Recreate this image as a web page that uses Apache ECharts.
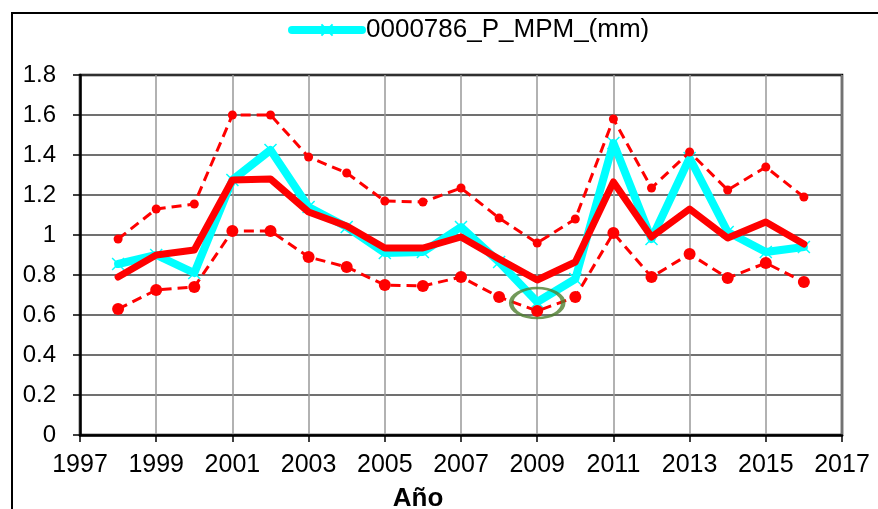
<!DOCTYPE html>
<html>
<head>
<meta charset="utf-8">
<script src="https://cdn.jsdelivr.net/npm/echarts@6/dist/echarts.min.js"></script>
<style>html,body{margin:0;padding:0;background:#fff;}#c{width:878px;height:509px;}</style>
</head>
<body>
<div id="c"></div>
<script>
var years = [1998,1999,2000,2001,2002,2003,2004,2005,2006,2007,2008,2009,2010,2011,2012,2013,2014,2015,2016];
var mpm = [0.855,0.90,0.81,1.275,1.425,1.14,1.04,0.91,0.915,1.04,0.865,0.665,0.78,1.46,0.98,1.385,1.015,0.915,0.94];
var mid = [0.79,0.90,0.925,1.275,1.28,1.115,1.045,0.935,0.935,0.99,0.88,0.775,0.865,1.265,0.99,1.13,0.985,1.065,0.955];
var upper = [0.98,1.13,1.155,1.60,1.60,1.39,1.31,1.17,1.165,1.235,1.085,0.96,1.08,1.58,1.235,1.415,1.225,1.34,1.19];
var lower = [0.63,0.725,0.74,1.02,1.02,0.89,0.84,0.75,0.745,0.79,0.69,0.62,0.69,1.01,0.79,0.905,0.785,0.86,0.765];
var highlight = [[2009, 0.66]];
var seriesName = '0000786_P_MPM_(mm)';
var xTitle = 'Año';

function pairs(v){ return years.map(function(y,i){ return [y, v[i]]; }); }
var FONT = '"Liberation Sans", Arial, sans-serif';

var chart = echarts.init(document.getElementById('c'), null, {renderer:'canvas'});
chart.setOption({
  animation: false,
  backgroundColor: '#fff',
  textStyle: {fontFamily: FONT},
  graphic: [{
    type: 'rect', silent: true, z: 100,
    shape: {x: 12, y: 13, width: 900, height: 520},
    style: {fill: 'none', stroke: '#000', lineWidth: 2}
  }],
  title: {
    text: xTitle, left: 413, top: 481, textAlign: 'center',
    textStyle: {fontFamily: FONT, fontWeight: 'bold', fontSize: 26, color: '#000'}
  },
  legend: {
    data: [seriesName],
    left: 283, top: 12,
    itemWidth: 70, itemHeight: 14, itemGap: 6,
    lineStyle: {width: 8, cap: 'round'},
    textStyle: {fontFamily: FONT, fontSize: 26, color: '#000', padding: [0,0,0,-1]}
  },
  grid: {left: 80, top: 75, right: 36, bottom: 74, show: true, borderColor: '#000', borderWidth: 2.5, backgroundColor: '#fff'},
  xAxis: {
    type: 'value', min: 1997, max: 2017, interval: 2,
    axisLine: {lineStyle: {color: '#000', width: 2.5}},
    axisTick: {show: true, length: 7, lineStyle: {color: '#000', width: 1.5}},
    axisLabel: {fontFamily: FONT, fontSize: 25, color: '#000', margin: 18, formatter: function(v){ return String(v); }},
    splitLine: {show: true, lineStyle: {color: '#999', width: 1.5}}
  },
  yAxis: {
    type: 'value', min: 0, max: 1.8, interval: 0.2,
    axisLine: {show: true, lineStyle: {color: '#000', width: 2.5}},
    axisTick: {show: true, length: 7, lineStyle: {color: '#000', width: 1.5}},
    axisLabel: {fontFamily: FONT, fontSize: 24, color: '#000', margin: 24},
    splitLine: {show: true, lineStyle: {color: '#404040', width: 1.5}}
  },
  series: [
    {
      name: seriesName, type: 'line', data: pairs(mpm), z: 2,
      symbol: 'path://M0,0L10,10M10,0L0,10', symbolSize: 12, showSymbol: true,
      lineStyle: {color: '#00FFFF', width: 8, cap: 'round', join: 'round'},
      itemStyle: {color: '#00FFFF', borderColor: '#00FFFF', borderWidth: 1.5}
    },
    {
      name: 'mid', type: 'line', data: pairs(mid), z: 3,
      symbol: 'none',
      lineStyle: {color: '#FF0000', width: 7, cap: 'round', join: 'round'}
    },
    {
      name: 'upper', type: 'line', data: pairs(upper), z: 4,
      symbol: 'circle', symbolSize: 9,
      lineStyle: {color: '#FF0000', width: 3, type: [10, 6]},
      itemStyle: {color: '#FF0000'}
    },
    {
      name: 'lower', type: 'line', data: pairs(lower), z: 4,
      symbol: 'circle', symbolSize: 12,
      lineStyle: {color: '#FF0000', width: 3, type: [10, 6]},
      itemStyle: {color: '#FF0000'}
    },
    {
      name: 'highlight', type: 'scatter', data: highlight, z: 5,
      symbol: 'circle', symbolSize: [52, 30],
      itemStyle: {color: 'rgba(0,0,0,0)', borderColor: '#4f7f30', borderWidth: 3.5}
    }
  ]
});
</script>
</body>
</html>
